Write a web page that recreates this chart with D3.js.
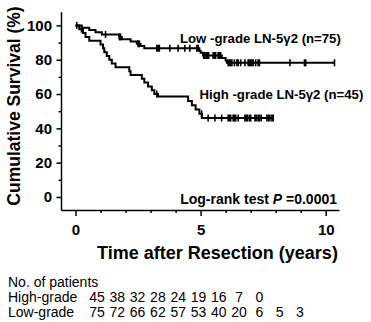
<!DOCTYPE html>
<html lang="en">

<head>
    <meta charset="UTF-8">
    <title>Kaplan-Meier LN-5γ2</title>
    <script src="https://d3js.org/d3.v7.min.js"></script>
    <style>
        body {
            margin: 0;
            background: #fff;
        }

        svg text {
            font-family: "Liberation Sans", Arial, sans-serif;
        }

        .axis text {
            font-size: 15px;
            font-weight: bold;
        }

        .label {
            font-size: 13.2px;
            font-weight: bold;
        }

        .table {
            font-size: 14px;
        }
    </style>
</head>

<body>
    <div id="chart"></div>

    <script>
        // step points: [years, survival %]
        const lowSteps = [[0, 100], [0.25, 98.7], [0.55, 97.3], [0.8, 96], [1.05, 94.7], [1.75, 93.3], [1.85, 92],
            [2.2, 90.7], [2.45, 89.3], [2.6, 88], [2.75, 86.7], [4.95, 85.3], [5.0, 84], [5.1, 82.5],
            [5.85, 81], [6.0, 79.5], [6.05, 78.2], [10.35, 78.2]];
        const highSteps = [[0, 100], [0.15, 97.8], [0.3, 95.6], [0.4, 93.3], [0.55, 91.1], [1.0, 88.9], [1.1, 86.7],
            [1.15, 84.4], [1.25, 82.2], [1.35, 80], [1.45, 77.8], [1.6, 75.6], [2.15, 73.3], [2.2, 71.1],
            [2.65, 68.9], [2.75, 66.7], [2.9, 64.4], [3.05, 62.2], [3.15, 60], [3.3, 58.5], [4.5, 56],
            [4.65, 53.5], [4.8, 51], [4.95, 48.5], [5.05, 46], [7.9, 46]];

        // censored times (years)
        const lowCensored = [0.05, 1.2, 1.75, 1.8, 2.5, 2.55, 3.25, 3.3, 3.35, 3.77, 4.1, 4.37, 4.57, 4.85, 4.9,
            5.12, 5.17, 5.22, 5.27, 5.32, 5.5, 5.55, 5.6, 5.7, 5.75, 5.8, 6.1, 6.15, 6.2, 6.25, 6.35, 6.45,
            6.5, 6.6, 6.77, 6.9, 6.95, 7.0, 7.05, 7.1, 7.2, 7.3, 7.35, 8.57, 9.15, 9.2, 10.35];
        const highCensored = [0.24, 3.25, 5.04, 5.3, 5.57, 5.84, 6.1, 6.15, 6.2, 6.3, 6.35, 6.4, 6.5, 6.77, 6.82,
            6.87, 6.95, 7.0, 7.17, 7.22, 7.3, 7.35, 7.42, 7.65, 7.7, 7.77, 7.85, 7.9];

        const xMajor = [0, 5, 10];
        const xMinor = [1, 2, 3, 4, 6, 7, 8, 9];
        const yMajor = [0, 20, 40, 60, 80, 100];
        const yMinor = [10, 30, 50, 70, 90];

        const tableRows = ["High-grade", "Low-grade"];
        const highAtRisk = [45, 38, 32, 28, 24, 19, 16, 7, 0];
        const lowAtRisk = [75, 72, 66, 62, 57, 53, 40, 20, 6, 5, 3];

        const width = 371;
        const height = 322;

        const svg = d3.select("#chart")
            .append("svg")
            .attr("width", width)
            .attr("height", height)
            .attr("viewBox", [0, 0, width, height]);

        const x = d3.scaleLinear().domain([-0.58, 10.53]).range([61, 339]);
        const y = d3.scaleLinear().domain([-7.6, 108]).range([210, 11.7]);

        const styleAxis = g => {
            g.selectAll("path, line").attr("stroke", "#000").attr("stroke-width", 1.5);
            g.selectAll("text").attr("fill", "#000");
        };

        // x axis
        svg.append("g")
            .attr("class", "axis")
            .attr("transform", `translate(0,${y.range()[0]})`)
            .call(d3.axisBottom(x).tickValues(xMajor).tickSize(6).tickSizeOuter(0).tickPadding(8.5))
            .call(styleAxis);
        svg.append("g")
            .attr("transform", `translate(0,${y.range()[0]})`)
            .call(d3.axisBottom(x).tickValues(xMinor).tickSize(3).tickFormat(""))
            .call(g => g.select(".domain").remove())
            .call(styleAxis);

        // y axis
        svg.append("g")
            .attr("class", "axis")
            .attr("transform", `translate(${x.range()[0]},0)`)
            .call(d3.axisLeft(y).tickValues(yMajor).tickSize(4.5).tickSizeOuter(0).tickPadding(4.5))
            .call(styleAxis);
        svg.append("g")
            .attr("transform", `translate(${x.range()[0]},0)`)
            .call(d3.axisLeft(y).tickValues(yMinor).tickSize(2.5).tickFormat(""))
            .call(g => g.select(".domain").remove())
            .call(styleAxis);

        // axis titles
        svg.append("text")
            .attr("transform", "translate(20,106) rotate(-90)")
            .attr("text-anchor", "middle")
            .attr("font-size", 17.5)
            .attr("font-weight", "bold")
            .text("Cumulative Survival  (%)");

        svg.append("text")
            .attr("x", 217.5)
            .attr("y", 258.5)
            .attr("text-anchor", "middle")
            .attr("font-size", 18)
            .attr("font-weight", "bold")
            .text("Time after Resection (years)");

        // survival curves
        const line = d3.line()
            .curve(d3.curveStepAfter)
            .x(d => x(d[0]))
            .y(d => y(d[1]));

        const levelAt = (steps, t) => {
            let v = steps[0][1];
            steps.forEach(d => { if (d[0] <= t) v = d[1]; });
            return v;
        };

        [[lowSteps, lowCensored], [highSteps, highCensored]].forEach(([steps, cens]) => {
            svg.append("path")
                .datum(steps)
                .attr("fill", "none")
                .attr("stroke", "#000")
                .attr("stroke-width", 2)
                .attr("d", line);

            svg.append("g")
                .selectAll("line")
                .data(cens)
                .join("line")
                .attr("x1", d => x(d))
                .attr("x2", d => x(d))
                .attr("y1", d => y(levelAt(steps, d)) - 3.5)
                .attr("y2", d => y(levelAt(steps, d)) + 3.5)
                .attr("stroke", "#000")
                .attr("stroke-width", 1.6);
        });

        // labels
        svg.append("text")
            .attr("class", "label")
            .attr("x", 180)
            .attr("y", 43)
            .text("Low -grade LN-5γ2 (n=75)");

        svg.append("text")
            .attr("class", "label")
            .attr("x", 199.5)
            .attr("y", 99)
            .text("High -grade LN-5γ2 (n=45)");

        const logrank = svg.append("text")
            .attr("class", "label")
            .attr("x", 337)
            .attr("y", 203.5)
            .style("font-size", "14px")
            .attr("text-anchor", "end");
        logrank.append("tspan").text("Log-rank test ");
        logrank.append("tspan").attr("font-style", "italic").text("P");
        logrank.append("tspan").text(" =0.0001");

        // number at risk table
        const col = d3.scalePoint().domain(d3.range(lowAtRisk.length)).range([97, 300]);

        svg.append("text")
            .attr("class", "table")
            .attr("x", 8)
            .attr("y", 286.7)
            .text("No. of patients");

        [highAtRisk, lowAtRisk].forEach((row, r) => {
            const yy = 301.7 + r * 15;
            svg.append("text")
                .attr("class", "table")
                .attr("x", 8)
                .attr("y", yy)
                .text(tableRows[r]);

            svg.append("g")
                .selectAll("text")
                .data(row)
                .join("text")
                .attr("class", "table")
                .attr("x", (d, i) => col(i))
                .attr("y", yy)
                .attr("text-anchor", "middle")
                .text(d => d);
        });
    </script>
</body>

</html>
